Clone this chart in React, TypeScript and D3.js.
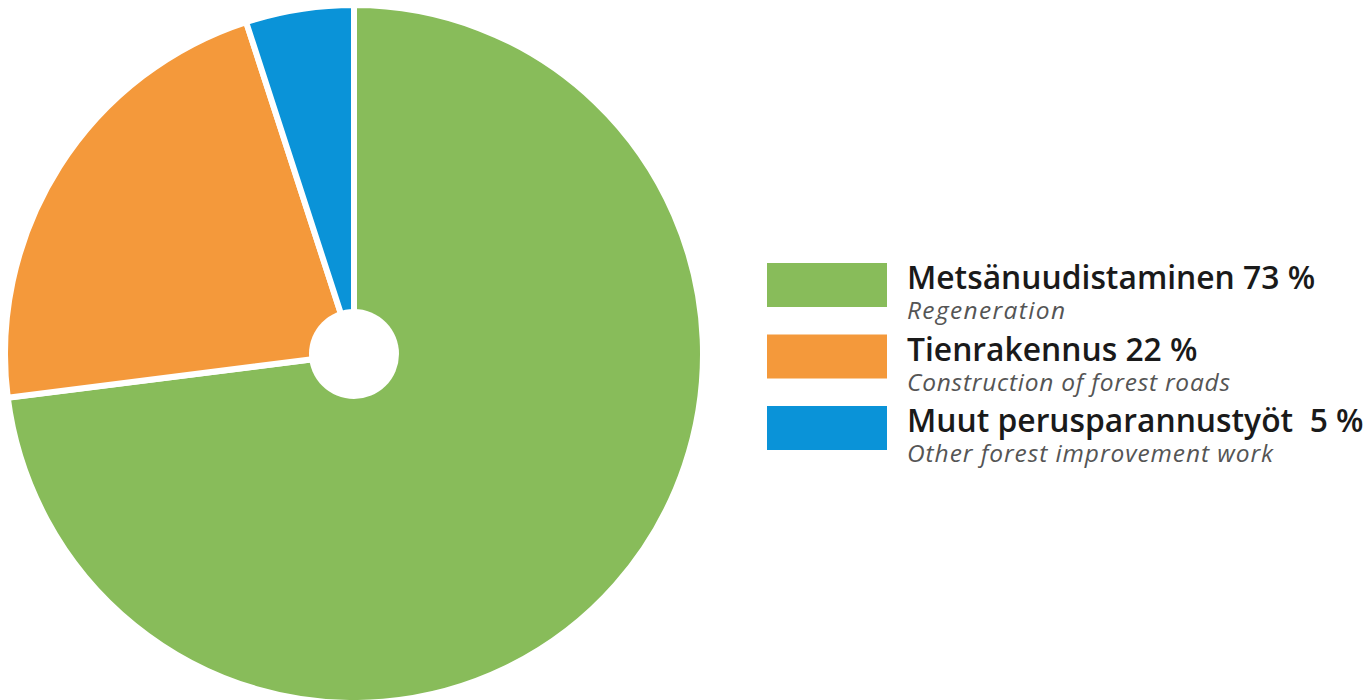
import React from "react";
import * as d3 from "d3";

const categories = ["Metsänuudistaminen", "Tienrakennus", "Muut perusparannustyöt"];
const englishLabels = ["Regeneration", "Construction of forest roads", "Other forest improvement work"];
const shares = [73, 22, 5];
const colors = ["#88bc5a", "#f4993b", "#0a93d8"];
const englishWidths = [158, 323, 366];

const W = 1372;
const H = 700;

export default function App() {
  const cx = 354;
  const cy = 354;
  const outerR = 349;
  const holeR = 45;

  const pie = d3
    .pie<number>()
    .sort(null)
    .value((d) => d)
    .startAngle(0)
    .endAngle(2 * Math.PI);
  const arcs = pie(shares);
  const arcGen = d3.arc<d3.PieArcDatum<number>>().innerRadius(0).outerRadius(outerR);

  const legendX = 767;
  const swatchW = 120;
  const swatchH = 44;
  const rowY = d3.scalePoint<number>().domain([0, 1, 2]).range([263, 406]);

  return (
    <svg
      width={W}
      height={H}
      viewBox={`0 0 ${W} ${H}`}
      style={{ position: "absolute", left: 0, top: 0, display: "block", background: "#fff" }}
    >
      <rect x={0} y={0} width={W} height={H} fill="#fff" />
      <g transform={`translate(${cx},${cy})`}>
        {arcs.map((a, i) => (
          <path key={i} d={arcGen(a) || ""} fill={colors[i]} stroke="#fff" strokeWidth={6} strokeLinejoin="miter" />
        ))}
        <circle r={holeR} fill="#fff" />
      </g>
      <g fontFamily="'Open Sans', 'Noto Sans', sans-serif">
        {categories.map((c, i) => {
          const y = rowY(i) as number;
          const label = i === 2 ? `${c}  ${shares[i]} %` : `${c} ${shares[i]} %`;
          return (
            <g key={c}>
              <rect x={legendX} y={y} width={swatchW} height={swatchH} fill={colors[i]} />
              <text x={907} y={y + 26} fontSize={31.8} fontWeight={600} fill="#1a1a1a" style={{ whiteSpace: "pre" }}>
                {label}
              </text>
              <text
                x={907}
                y={y + 56}
                fontSize={24.5}
                fontStyle="italic"
                fill="#555"
                textLength={englishWidths[i]}
                lengthAdjust="spacing"
              >
                {englishLabels[i]}
              </text>
            </g>
          );
        })}
      </g>
    </svg>
  );
}
